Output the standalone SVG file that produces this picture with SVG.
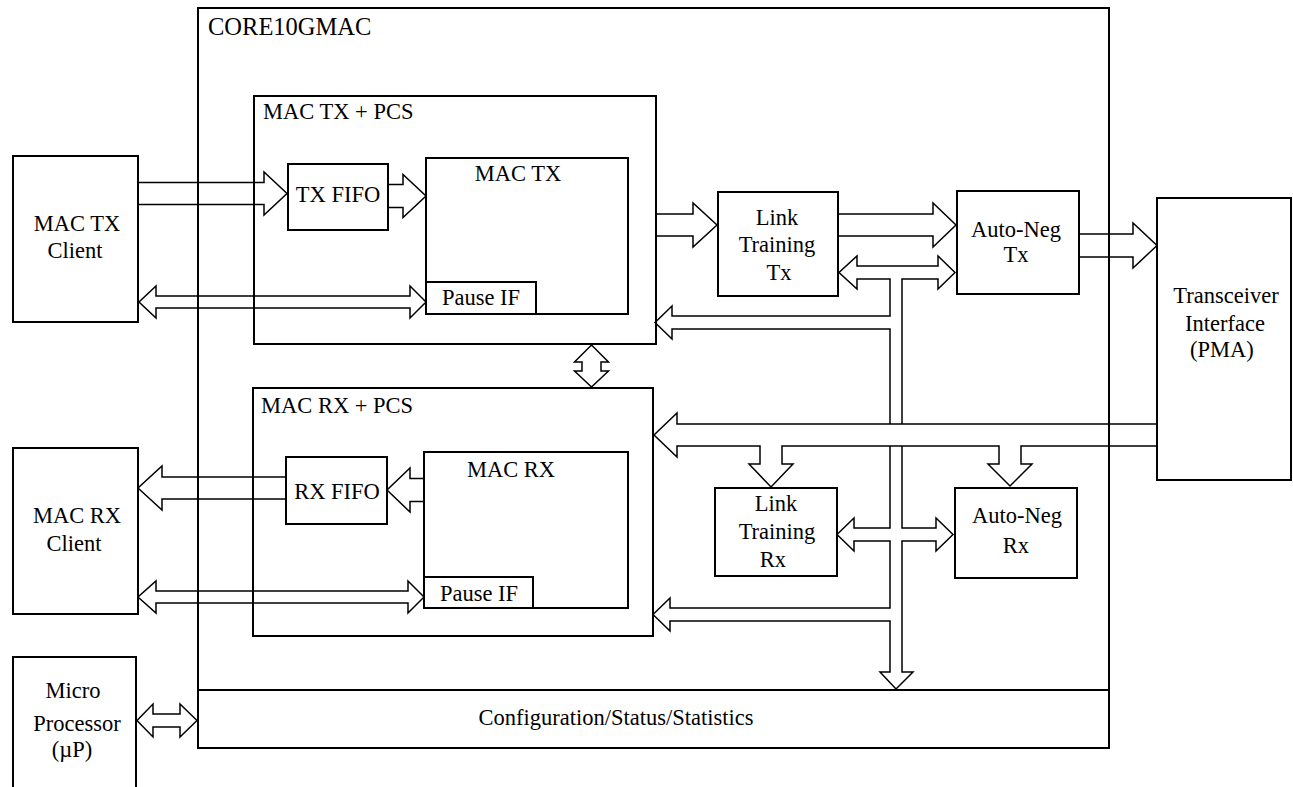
<svg xmlns="http://www.w3.org/2000/svg" width="1293" height="787" viewBox="0 0 1293 787">
<style>
.box{fill:none;stroke:#000;stroke-width:2}
.arr{fill:none;stroke:#000;stroke-width:1.5;stroke-linejoin:miter}
text{font-family:"Liberation Serif","Times New Roman",serif;font-size:22.5px;fill:#000}
.c{text-anchor:middle}
</style>
<rect width="1293" height="787" fill="#fff"/>
<g id="core10gmac"><rect class="box" x="198" y="8" width="911" height="740"/><text x="208" y="35" style="font-size:24.5px">CORE10GMAC</text></g>
<g id="config"><rect class="box" x="198" y="690" width="911" height="58"/><text class="c" x="616" y="725">Configuration/Status/Statistics</text></g>
<g id="mac-tx-client"><rect class="box" x="13" y="156" width="125" height="166"/><text class="c" x="77" y="231">MAC TX</text><text class="c" x="75" y="258">Client</text></g>
<g id="mac-tx-pcs"><rect class="box" x="254" y="96" width="402" height="248"/><text x="263" y="119">MAC TX + PCS</text></g>
<g id="tx-fifo"><rect class="box" x="288" y="164" width="100" height="66"/><text class="c" x="338" y="202">TX FIFO</text></g>
<g id="mac-tx"><rect class="box" x="426" y="158" width="202" height="156"/><text class="c" x="518" y="181">MAC TX</text></g>
<g id="pause-if-tx"><rect class="box" x="426" y="282" width="110" height="32"/><text class="c" x="481" y="305">Pause IF</text></g>
<g id="link-training-tx"><rect class="box" x="718" y="192" width="120" height="104"/><text class="c" x="777" y="225">Link</text><text class="c" x="777" y="252">Training</text><text class="c" x="779" y="280">Tx</text></g>
<g id="auto-neg-tx"><rect class="box" x="957" y="191" width="122" height="103"/><text class="c" x="1016" y="237">Auto-Neg</text><text class="c" x="1016" y="262">Tx</text></g>
<g id="pma"><rect class="box" x="1157" y="198" width="134" height="282"/><text class="c" x="1226" y="303">Transceiver</text><text class="c" x="1225" y="331">Interface</text><text class="c" x="1222" y="357">(PMA)</text></g>
<g id="mac-rx-pcs"><rect class="box" x="253" y="388" width="400" height="248"/><text x="261" y="413">MAC RX + PCS</text></g>
<g id="rx-fifo"><rect class="box" x="286" y="457" width="101" height="67"/><text class="c" x="337" y="499">RX FIFO</text></g>
<g id="mac-rx"><rect class="box" x="424" y="452" width="204" height="156"/><text class="c" x="511" y="477">MAC RX</text></g>
<g id="pause-if-rx"><rect class="box" x="424" y="577" width="109" height="31"/><text class="c" x="479" y="601">Pause IF</text></g>
<g id="mac-rx-client"><rect class="box" x="13" y="448" width="125" height="166"/><text class="c" x="77" y="523">MAC RX</text><text class="c" x="74" y="551">Client</text></g>
<g id="link-training-rx"><rect class="box" x="715" y="488" width="122" height="88"/><text class="c" x="776" y="511">Link</text><text class="c" x="777" y="539">Training</text><text class="c" x="773" y="567">Rx</text></g>
<g id="auto-neg-rx"><rect class="box" x="955" y="488" width="122" height="90"/><text class="c" x="1017" y="523">Auto-Neg</text><text class="c" x="1016" y="553">Rx</text></g>
<g id="micro-processor"><rect class="box" x="13" y="657" width="123" height="150"/><text class="c" x="73" y="698">Micro</text><text class="c" x="77" y="731">Processor</text><text class="c" x="72" y="757">(µP)</text></g>
<g id="connectors">
<path class="arr" d="M138,182.5 H264 V172 L287,193.5 L264,215 V204.5 H138"/>
<path class="arr" d="M388,184.5 H403 V174.5 L426,196 L403,217.5 V207.5 H388"/>
<path class="arr" d="M656,214 H693 V203 L717,225 L693,247 V236 H656"/>
<path class="arr" d="M838,214 H933 V203 L956,225 L933,247 V236 H838"/>
<path class="arr" d="M1079,234 H1133 V223 L1157,245.5 L1133,268 V257 H1079"/>
<path class="arr" d="M1157,424 H677 V413 L654,435 L677,457 V446 H760 V464 H749 L771,487 L793,464 H782 V446 H999 V464 H988 L1010,486 L1032,464 H1021 V446 H1157"/>
<path class="arr" d="M156,296 H410 V286 L426,302 L410,318 V308 H156 V318 L139,302 L156,286 Z"/>
<path class="arr" d="M156,591 H408 V581 L424,597 L408,613 V603 H156 V613 L138,597 L156,581 Z"/>
<path class="arr" d="M424,478.5 H410 V468 L387,490 L410,512 V501.5 H424"/>
<path class="arr" d="M286,477 H162 V466 L138,488 L162,510 V499 H286"/>
<path class="arr" d="M153,714 H180 V704 L197,720.5 L180,737 V727 H153 V737 L137,720.5 L153,704 Z"/>
<path class="arr" d="M582,362 V371 H574.5 L591.5,387 L608.5,371 H601 V362 H608.5 L591.5,345 L574.5,362 Z"/>
<path class="arr" d="M890,424 V329 H672 V339 L655,322.5 L672,306 V316 H890 V279 H857 V289 L839,272.5 L857,256 V266 H938 V256 L955,272.5 L938,289 V279 H902 V424"/>
<path class="arr" d="M890,446 V528 H854 V518 L837,534.5 L854,551 V541 H890 V608 H670 V598 L653,614.5 L670,631 V621 H890 V672 H880 L896,689 L913,672 H902 V541 H936 V551 L953,534.5 L936,518 V528 H902 V446"/>
</g>
</svg>
